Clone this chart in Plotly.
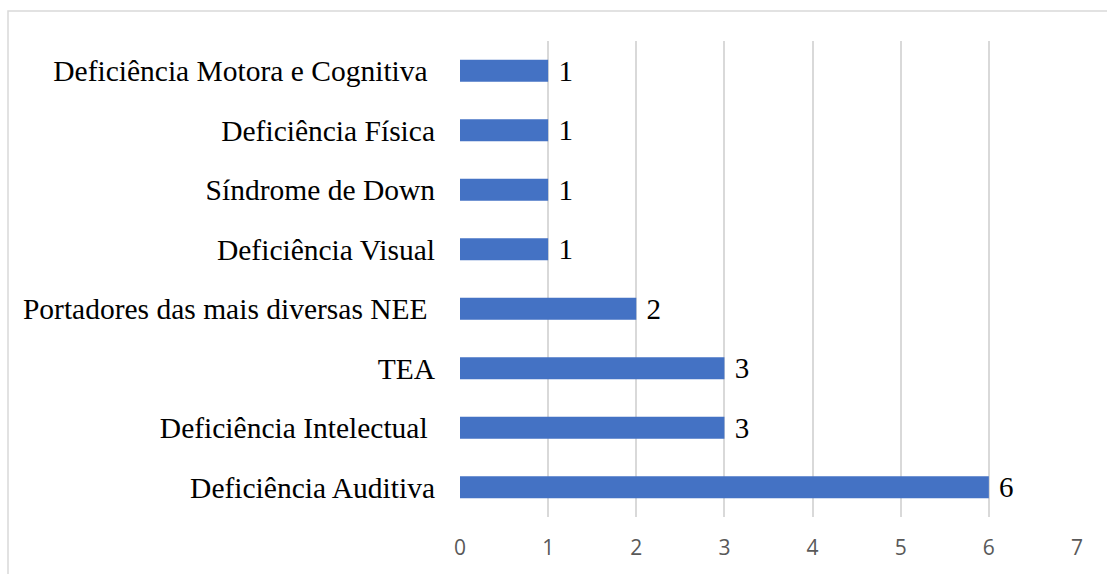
import plotly.graph_objects as go

categories = [
    "Deficiência Auditiva",
    "Deficiência Intelectual\u00a0",
    "TEA",
    "Portadores das mais diversas NEE\u00a0",
    "Deficiência Visual",
    "Síndrome de Down",
    "Deficiência Física",
    "Deficiência Motora e Cognitiva\u00a0",
]
values = [6, 3, 3, 2, 1, 1, 1, 1]
x_ticks = [0, 1, 2, 3, 4, 5, 6, 7]

SERIF = "Liberation Serif, Times New Roman, serif"

fig = go.Figure(go.Bar(
    x=values, y=categories, orientation="h",
    marker=dict(color="#4472C4", line=dict(width=0)),
    text=values, texttemplate="\u00a0%{x}", textposition="outside",
    constraintext="none",
    textfont=dict(family=SERIF, size=29, color="#000000"),
    cliponaxis=False,
))

W, H = 1107, 574
L, R, T, B = 460, 30, 41, 57
pw, ph = W - L - R, H - T - B

def px_x(p):
    return (p - L) / pw

def px_y(p):
    return 1 - (p - T) / ph

fig.add_shape(type="rect", xref="paper", yref="paper",
              x0=px_x(8), x1=px_x(1115), y0=px_y(585), y1=px_y(11),
              line=dict(color="#d9d9d9", width=1.5), fillcolor="rgba(0,0,0,0)", layer="below")

fig.update_layout(
    width=W, height=H,
    margin=dict(l=L, r=R, t=T, b=B, pad=0),
    paper_bgcolor="white", plot_bgcolor="white",
    bargap=0.63, showlegend=False,
    xaxis=dict(range=[0, 7], tickvals=x_ticks, showgrid=True, gridcolor="#d9d9d9", gridwidth=1.5,
               zeroline=False, showline=False, ticks="", ticklabelstandoff=16,
               tickfont=dict(family="Open Sans, Calibri, sans-serif", size=21, color="#595959")),
    yaxis=dict(categoryorder="array", categoryarray=categories, showgrid=False, zeroline=False,
               showline=False, ticks="", ticklabelstandoff=24,
               tickfont=dict(family=SERIF, size=29.5, color="#000000")),
)

fig.write_html("out.html")
